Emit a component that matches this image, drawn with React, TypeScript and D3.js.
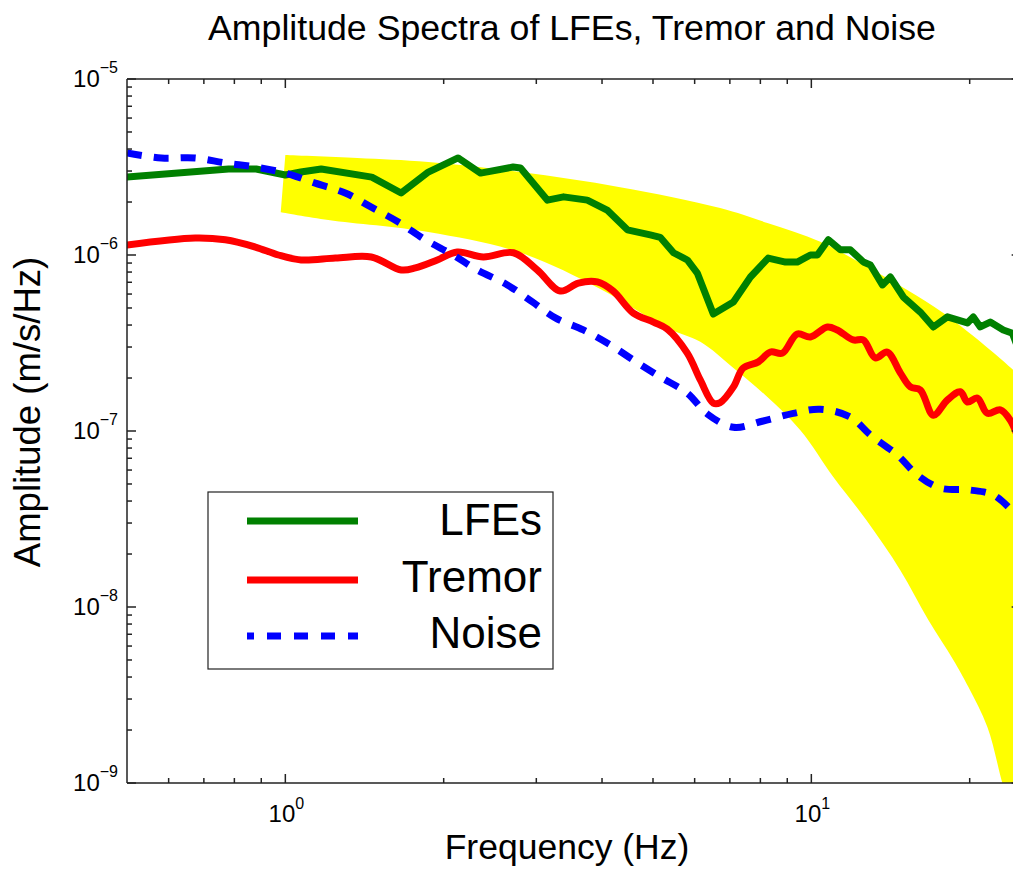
import React from 'react';
import * as d3 from 'd3';

const freqLFE = [0.5, 0.78, 0.88, 1.0, 1.07, 1.17, 1.46, 1.66, 1.87, 2.13, 2.35, 2.71, 2.8, 3.15, 3.38, 3.75, 4.09, 4.47, 4.94, 5.16, 5.47, 5.81, 6.07, 6.51, 7.11, 7.66, 8.28, 8.93, 9.4, 9.96, 10.27, 10.77, 11.36, 11.86, 12.56, 12.95, 13.65, 14.13, 14.96, 16.11, 17.06, 18.14, 19.8, 20.32, 20.95, 21.88, 23.17, 24.1, 25];
const ampLFE = [2.77e-6, 3.08e-6, 3.08e-6, 2.85e-6, 2.96e-6, 3.08e-6, 2.77e-6, 2.25e-6, 2.96e-6, 3.56e-6, 2.92e-6, 3.16e-6, 3.12e-6, 2.05e-6, 2.14e-6, 2.05e-6, 1.8e-6, 1.39e-6, 1.3e-6, 1.26e-6, 1.03e-6, 9.37e-7, 7.9e-7, 4.62e-7, 5.41e-7, 7.5e-7, 9.6e-7, 9.12e-7, 9.12e-7, 1.0e-6, 1.0e-6, 1.22e-6, 1.07e-6, 1.07e-6, 9.12e-7, 8.77e-7, 6.76e-7, 7.5e-7, 5.77e-7, 4.74e-7, 3.9e-7, 4.45e-7, 4.11e-7, 4.45e-7, 3.9e-7, 4.16e-7, 3.75e-7, 3.6e-7, 2.7e-7];

const freqTremor = [0.5, 0.674, 0.769, 0.877, 0.97, 1.072, 1.245, 1.457, 1.662, 1.767, 1.945, 2.123, 2.379, 2.714, 3.013, 3.333, 3.606, 3.92, 4.2, 4.587, 5.01, 5.32, 5.81, 6.15, 6.51, 6.71, 7.11, 7.42, 7.93, 8.36, 8.81, 9.4, 9.96, 10.73, 11.2, 12.02, 12.56, 13.23, 13.94, 14.76, 15.43, 16.11, 17.06, 18.14, 19.2, 19.8, 20.68, 21.61, 22.87, 23.9, 25];
const ampTremor = [1.14e-6, 1.25e-6, 1.22e-6, 1.11e-6, 1.0e-6, 9.37e-7, 9.6e-7, 9.74e-7, 8.22e-7, 8.44e-7, 9.37e-7, 1.04e-6, 9.74e-7, 1.03e-6, 8.22e-7, 6.24e-7, 6.93e-7, 7.03e-7, 6.24e-7, 4.68e-7, 4.16e-7, 3.8e-7, 2.77e-7, 1.95e-7, 1.44e-7, 1.45e-7, 1.78e-7, 2.28e-7, 2.47e-7, 2.81e-7, 2.77e-7, 3.56e-7, 3.42e-7, 3.9e-7, 3.75e-7, 3.29e-7, 3.29e-7, 2.6e-7, 2.81e-7, 2.14e-7, 1.78e-7, 1.71e-7, 1.23e-7, 1.5e-7, 1.67e-7, 1.46e-7, 1.54e-7, 1.26e-7, 1.32e-7, 1.15e-7, 8.3e-8];

const freqNoise = [0.5, 0.581, 0.674, 0.769, 0.877, 1.0, 1.14, 1.3, 1.457, 1.64, 1.846, 2.085, 2.317, 2.643, 2.949, 3.261, 3.686, 4.15, 4.587, 5.16, 5.81, 6.34, 7.11, 8.1, 9.24, 10.4, 11.86, 12.95, 14.57, 15.91, 17.58, 20.05, 22.18, 24.2, 25];
const ampNoise = [3.8e-6, 3.56e-6, 3.56e-6, 3.33e-6, 3.16e-6, 2.92e-6, 2.56e-6, 2.25e-6, 1.87e-6, 1.54e-6, 1.22e-6, 1.0e-6, 8.22e-7, 6.76e-7, 5.41e-7, 4.39e-7, 3.75e-7, 3.08e-7, 2.53e-7, 2.03e-7, 1.64e-7, 1.25e-7, 1.05e-7, 1.14e-7, 1.26e-7, 1.33e-7, 1.2e-7, 9.49e-8, 7.31e-8, 5.62e-8, 4.74e-8, 4.62e-8, 4.33e-8, 3.47e-8, 3.12e-8];

const bandTopFreq = [1.0, 1.37, 1.87, 2.8, 4.33, 6.71, 8.25, 10.4, 12.78, 15.22, 17.82, 21.88, 24.2, 25];
const bandTopAmp = [3.7e-6, 3.56e-6, 3.38e-6, 2.96e-6, 2.43e-6, 1.85e-6, 1.52e-6, 1.19e-6, 8.55e-7, 6.32e-7, 4.68e-7, 2.89e-7, 2.22e-7, 2.0e-7];
const bandBotFreq = [0.98, 1.207, 1.87, 2.8, 3.97, 5.32, 6.15, 7.11, 8.25, 9.53, 11.01, 12.72, 14.76, 16.69, 18.62, 19.89, 21.61, 23.07, 23.9, 25];
const bandBotAmp = [1.75e-6, 1.58e-6, 1.35e-6, 1.03e-6, 6.41e-7, 3.85e-7, 3.21e-7, 2.28e-7, 1.56e-7, 1.01e-7, 5.48e-8, 3.12e-8, 1.62e-8, 8.43e-9, 5.0e-9, 3.51e-9, 2.08e-9, 1.0e-9, 7.0e-10, 1.0e-10];

const xMajor = [1, 10];
const xMinor = [0.6, 0.7, 0.8, 0.9, 2, 3, 4, 5, 6, 7, 8, 9, 20];
const yExponents = [-9, -8, -7, -6, -5];
const xExponents = [0, 1];

const seriesNames = ['LFEs', 'Tremor', 'Noise'];
const seriesColors = ['#008000', '#ff0000', '#0000ff'];

const FONT = "'Liberation Sans', Arial, Helvetica, sans-serif";

export default function App() {
  const W = 1013, H = 869;
  const left = 127, top = 79, bottom = 783;
  const decadeX = 526;
  const right = left + decadeX * Math.log10(25 / 0.5);
  const x = d3.scaleLog().domain([0.5, 25]).range([left, right]);
  const y = d3.scaleLog().domain([1e-9, 1e-5]).range([bottom, top]);

  const line = d3.line<[number, number]>().x(d => x(d[0])).y(d => y(d[1]));
  const curve = d3.line<[number, number]>().x(d => x(d[0])).y(d => y(d[1])).curve(d3.curveCatmullRom.alpha(0.5));

  const toPts = (f: number[], a: number[]) => f.map((v, i) => [v, a[i]] as [number, number]);
  const topPts = toPts(bandTopFreq, bandTopAmp);
  const botPts = toPts(bandBotFreq, bandBotAmp).reverse();
  const bandPath = (curve(topPts) || '') + 'L' + (curve(botPts) || '').slice(1) + 'Z';

  const series = [
    { f: freqLFE, a: ampLFE, gen: line },
    { f: freqTremor, a: ampTremor, gen: curve },
    { f: freqNoise, a: ampNoise, gen: curve },
  ];

  const yMinor: number[] = [];
  for (let e = -9; e < -5; e++) for (let m = 2; m <= 9; m++) yMinor.push(m * Math.pow(10, e));

  const axisColor = '#222';
  const majorLen = 9, minorLen = 5;

  return (
    <div style={{ position: 'absolute', left: 0, top: 0 }}>
      <svg width={W} height={H} style={{ display: 'block', background: '#fff' }} fontFamily={FONT}>
        <defs>
          <clipPath id="plotClip">
            <rect x={left} y={top} width={right - left} height={bottom - top} />
          </clipPath>
        </defs>
        <g clipPath="url(#plotClip)">
          <path d={bandPath} fill="#ffff00" stroke="none" />
          {series.map((s, i) => (
            <path
              key={i}
              d={s.gen(toPts(s.f, s.a)) || ''}
              fill="none"
              stroke={seriesColors[i]}
              strokeWidth={7}
              strokeLinejoin="round"
              strokeLinecap={i === 2 ? 'butt' : 'round'}
              strokeDasharray={i === 2 ? '15 12' : undefined}
            />
          ))}
        </g>
        <g stroke={axisColor} strokeWidth={1.5} fill="none">
          <line x1={left} y1={top} x2={right} y2={top} />
          <line x1={left} y1={bottom} x2={right} y2={bottom} />
          <line x1={left} y1={top} x2={left} y2={bottom} />
          <line x1={right} y1={top} x2={right} y2={bottom} />
          {xMajor.map(v => (
            <g key={'xM' + v}>
              <line x1={x(v)} x2={x(v)} y1={bottom} y2={bottom - majorLen} />
              <line x1={x(v)} x2={x(v)} y1={top} y2={top + majorLen} />
            </g>
          ))}
          {xMinor.map(v => (
            <g key={'xm' + v}>
              <line x1={x(v)} x2={x(v)} y1={bottom} y2={bottom - minorLen} />
              <line x1={x(v)} x2={x(v)} y1={top} y2={top + minorLen} />
            </g>
          ))}
          {yExponents.map(e => (
            <g key={'yM' + e}>
              <line x1={left} x2={left + majorLen} y1={y(Math.pow(10, e))} y2={y(Math.pow(10, e))} />
              <line x1={right} x2={right - majorLen} y1={y(Math.pow(10, e))} y2={y(Math.pow(10, e))} />
            </g>
          ))}
          {yMinor.map((v, i) => (
            <g key={'ym' + i}>
              <line x1={left} x2={left + minorLen} y1={y(v)} y2={y(v)} />
              <line x1={right} x2={right - minorLen} y1={y(v)} y2={y(v)} />
            </g>
          ))}
        </g>
        {yExponents.map(e => (
          <text key={'yl' + e} x={118} y={y(Math.pow(10, e)) + 8} textAnchor="end" fontSize={24} fill="#000">
            10<tspan fontSize={16} dy={-14}>{e < 0 ? '\u2212' + Math.abs(e) : String(e)}</tspan>
          </text>
        ))}
        {xExponents.map(e => (
          <text key={'xl' + e} x={x(Math.pow(10, e)) + 1} y={822} textAnchor="middle" fontSize={24} fill="#000">
            10<tspan fontSize={16} dy={-13}>{String(e)}</tspan>
          </text>
        ))}
        <text x={572} y={40} textAnchor="middle" fontSize={35.7} fill="#000">Amplitude Spectra of LFEs, Tremor and Noise</text>
        <text x={567} y={859} textAnchor="middle" fontSize={35.5} fill="#000">Frequency (Hz)</text>
        <text transform={`translate(40, 412) rotate(-90)`} textAnchor="middle" fontSize={36.5} fill="#000">Amplitude (m/s/Hz)</text>
        <g>
          <rect x={208} y={492} width={345} height={177} fill="#fff" stroke="#222" strokeWidth={1.2} />
          {seriesNames.map((name, i) => {
            const ly = [521, 580, 636][i];
            const ty = [535, 592, 648][i];
            return (
              <g key={name}>
                <line x1={247} x2={358} y1={ly} y2={ly} stroke={seriesColors[i]} strokeWidth={7}
                  strokeDasharray={i === 2 ? '14 13' : undefined} strokeDashoffset={i === 2 ? 7 : undefined} />
                <text x={542} y={ty} textAnchor="end" fontSize={44} fill="#000">{name}</text>
              </g>
            );
          })}
        </g>
      </svg>
    </div>
  );
}
